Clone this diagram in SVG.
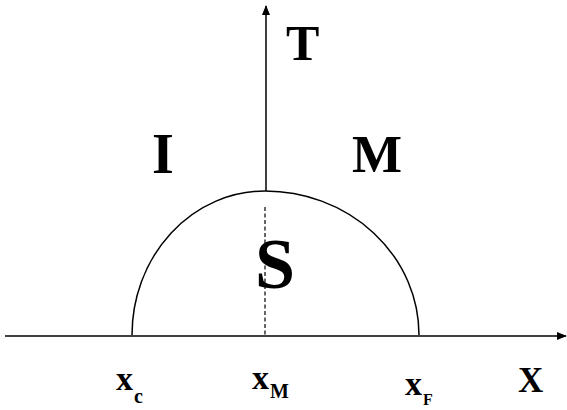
<svg xmlns="http://www.w3.org/2000/svg" width="567" height="410" viewBox="0 0 567 410">
<style>
.ln{stroke:#000;stroke-width:1.5;fill:none}
.dash{stroke:#000;stroke-width:1.2;fill:none;stroke-dasharray:4 2.5}
text{font-family:'Liberation Serif','Times New Roman',serif;font-weight:bold;fill:#000}
</style>
<defs>
<marker id="ah" viewBox="0 0 10 10" refX="9" refY="5" markerWidth="10" markerHeight="10" markerUnits="userSpaceOnUse" orient="auto">
<path d="M0,1 L10,5 L0,9 Z" fill="#000"/>
</marker>
</defs>
<g id="connectors">
<line class="ln" x1="5" y1="336" x2="566" y2="336" marker-end="url(#ah)"/>
<line class="ln" x1="266" y1="191" x2="266" y2="6" marker-end="url(#ah)"/>
<line class="dash" x1="265" y1="207" x2="265" y2="335"/>
</g>
<g id="curve">
<path class="ln" d="M132,335 A133,144 0 0 1 265,191 A154,144 0 0 1 419,335"/>
</g>
<g id="label-T"><text x="286" y="60" font-size="50">T</text></g>
<g id="label-I"><text x="152" y="173" font-size="56">I</text></g>
<g id="label-M"><text x="352" y="172" font-size="53">M</text></g>
<g id="label-S"><text x="255" y="288" font-size="72">S</text></g>
<g id="label-xc"><text x="116" y="390" font-size="34">x<tspan font-size="20" x="134" y="403">c</tspan></text></g>
<g id="label-xM"><text x="252" y="389" font-size="34">x<tspan font-size="20" x="270" y="398">M</tspan></text></g>
<g id="label-xF"><text x="405" y="395" font-size="34">x<tspan font-size="16" x="423" y="405">F</tspan></text></g>
<g id="label-X"><text x="518" y="392" font-size="35">X</text></g>
</svg>
